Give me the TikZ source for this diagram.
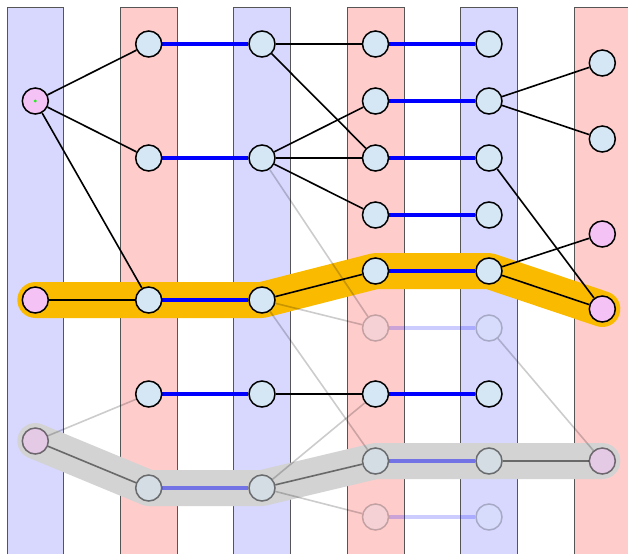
\documentclass[tikz,border=0pt]{standalone}
\usetikzlibrary{calc}
\definecolor{stripeblue}{HTML}{D8D8FF}
\definecolor{stripered}{HTML}{FFCCCC}
\definecolor{stripeline}{HTML}{555555}
\definecolor{nodeblue}{HTML}{D5E6F5}
\definecolor{nodepink}{HTML}{F5C2F5}
\definecolor{orangehl}{HTML}{FABA00}
\definecolor{grayhl}{HTML}{D3D3D3}
\definecolor{dotgreen}{HTML}{22EE22}
\pgfdeclarelayer{stripes}
\pgfdeclarelayer{hl}
\pgfdeclarelayer{edges}
\pgfsetlayers{stripes,hl,edges,main}
\begin{document}
\begin{tikzpicture}[x=1pt,y=-1pt,
  nd/.style={circle,draw=black,fill=nodeblue,line width=1.5pt,minimum size=26pt,inner sep=0pt},
  pk/.style={nd,fill=nodepink},
  grayed/.style={opacity=0.5},
  faded/.style={opacity=0.22},
  edge/.style={draw=black,line width=1.6pt},
  blueedge/.style={draw=blue,line width=4.7pt},
  lightedge/.style={draw=black,line width=1.6pt,draw opacity=0.2},
  midedge/.style={draw=black,line width=1.6pt,draw opacity=0.5},
  hlpath/.style={line width=36pt,line cap=round,line join=round},
  stripeborder/.style={draw=stripeline,line width=1pt}
]
\useasboundingbox (0,0) rectangle (628,554);
\def\ca{35.3}\def\cb{148.7}\def\cc{262}\def\cd{375.5}\def\ce{489}\def\cf{602.3}

% stripes
\begin{pgfonlayer}{stripes}
\fill[stripeblue] (7,7) rectangle (63.7,554);
\draw[stripeborder] (7,554) -- (7,7) -- (63.7,7) -- (63.7,554);
\fill[stripered] (120.3,7) rectangle (177,554);
\draw[stripeborder] (120.3,554) -- (120.3,7) -- (177,7) -- (177,554);
\fill[stripeblue] (233.5,7) rectangle (290.3,554);
\draw[stripeborder] (233.5,554) -- (233.5,7) -- (290.3,7) -- (290.3,554);
\fill[stripered] (347.3,7) rectangle (404,554);
\draw[stripeborder] (347.3,554) -- (347.3,7) -- (404,7) -- (404,554);
\fill[stripeblue] (460.7,7) rectangle (517.3,554);
\draw[stripeborder] (460.7,554) -- (460.7,7) -- (517.3,7) -- (517.3,554);
\fill[stripered] (574,7) rectangle (628,554);
\draw[stripeborder] (574,554) -- (574,7) -- (628,7);
\end{pgfonlayer}

% nodes
\node[pk] (A0) at (\ca,101) {};
\node[pk] (A1) at (\ca,300) {};
\node[pk,grayed] (A2) at (\ca,441) {};
\node[nd] (B0) at (\cb,44) {};
\node[nd] (B1) at (\cb,158) {};
\node[nd] (B2) at (\cb,300) {};
\node[nd] (B3) at (\cb,394) {};
\node[nd,grayed] (B4) at (\cb,488) {};
\node[nd] (C0) at (\cc,44) {};
\node[nd] (C1) at (\cc,158) {};
\node[nd] (C2) at (\cc,300) {};
\node[nd] (C3) at (\cc,394) {};
\node[nd,grayed] (C4) at (\cc,488) {};
\node[nd] (D0) at (\cd,44) {};
\node[nd] (D1) at (\cd,101) {};
\node[nd] (D2) at (\cd,158) {};
\node[nd] (D3) at (\cd,215) {};
\node[nd] (D4) at (\cd,271) {};
\node[nd,faded] (D5) at (\cd,328) {};
\node[nd] (D6) at (\cd,394) {};
\node[nd,grayed] (D7) at (\cd,461) {};
\node[nd,faded] (D8) at (\cd,517) {};
\node[nd] (E0) at (\ce,44) {};
\node[nd] (E1) at (\ce,101) {};
\node[nd] (E2) at (\ce,158) {};
\node[nd] (E3) at (\ce,215) {};
\node[nd] (E4) at (\ce,271) {};
\node[nd,faded] (E5) at (\ce,328) {};
\node[nd] (E6) at (\ce,394) {};
\node[nd,grayed] (E7) at (\ce,461) {};
\node[nd,faded] (E8) at (\ce,517) {};
\node[nd] (F0) at (\cf,63) {};
\node[nd] (F1) at (\cf,139) {};
\node[pk] (F2) at (\cf,234) {};
\node[pk] (F3) at (\cf,309) {};
\node[pk,grayed] (F4) at (\cf,461) {};
\fill[dotgreen] (A0.center) circle (1.6);

% highlighted paths
\begin{pgfonlayer}{hl}
\draw[hlpath,orangehl] (A1.center) -- (B2.center) -- (C2.center) -- (D4.center) -- (E4.center) -- (F3.center);
\draw[hlpath,grayhl] (A2.center) -- (B4.center) -- (C4.center) -- (D7.center) -- (E7.center) -- (F4.center);
\end{pgfonlayer}

% edges
\begin{pgfonlayer}{edges}
\foreach \a/\b in {A0/B0,A0/B1,A0/B2,A1/B2,C0/D0,C0/D2,C1/D1,C1/D2,C1/D3,C2/D4,C3/D6,E1/F0,E1/F1,E2/F3,E4/F2,E4/F3}
  \draw[edge] (\a) -- (\b);
\foreach \a/\b in {B0/C0,B1/C1,B2/C2,B3/C3,D0/E0,D1/E1,D2/E2,D3/E3,D4/E4,D6/E6}
  \draw[blueedge] (\a) -- (\b);
\foreach \a/\b in {B4/C4,D7/E7}
  \draw[blueedge,draw opacity=0.45] (\a) -- (\b);
\foreach \a/\b in {D5/E5,D8/E8}
  \draw[blueedge,draw opacity=0.2] (\a) -- (\b);
\foreach \a/\b in {A2/B3,C1/D5,C2/D5,C2/D7,C4/D6,C4/D8,E5/F4}
  \draw[lightedge] (\a) -- (\b);
\foreach \a/\b in {A2/B4,C4/D7,E7/F4}
  \draw[midedge] (\a) -- (\b);
\end{pgfonlayer}
\end{tikzpicture}
\end{document}
